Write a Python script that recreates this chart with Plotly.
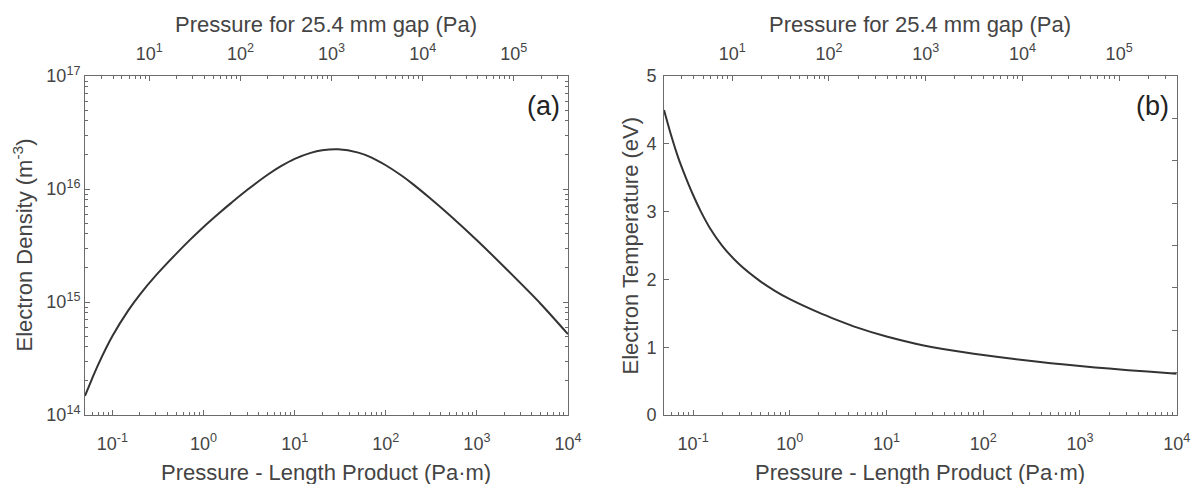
import math
import plotly.graph_objects as go

# ---------------- data ----------------
gap_m = 0.0254  # 25.4 mm gap

pd_a = [0.05, 0.06, 0.07, 0.1, 0.15, 0.2, 0.3, 0.5, 0.7, 1, 1.5, 2, 3, 5, 7, 10,
        15, 20, 30, 50, 70, 100, 150, 200, 300, 500, 1000, 2000, 5000, 10000]
ne_a = [1.48e14, 2.11e14, 2.81e14, 5.0e14, 8.47e14, 1.164e15, 1.718e15, 2.667e15,
        3.51e15, 4.62e15, 6.17e15, 7.50e15, 9.795e15, 1.330e16, 1.585e16, 1.849e16,
        2.089e16, 2.203e16, 2.249e16, 2.099e16, 1.897e16, 1.622e16, 1.309e16, 1.099e16,
        8.41e15, 5.89e15, 3.52e15, 2.04e15, 9.66e14, 5.19e14]

pd_b = [0.05, 0.06, 0.07, 0.08, 0.1, 0.12, 0.15, 0.2, 0.3, 0.5, 0.7, 1, 2, 3, 5,
        10, 20, 50, 100, 200, 500, 1000, 2000, 5000, 10000]
te_b = [4.50, 4.10, 3.80, 3.58, 3.245, 3.004, 2.752, 2.496, 2.223, 1.968, 1.832,
        1.708, 1.509, 1.407, 1.289, 1.157, 1.052, 0.947, 0.884, 0.828, 0.764, 0.722,
        0.684, 0.640, 0.610]

bottom_tickvals = [0.1, 1, 10, 100, 1000, 10000]
bottom_ticktext = ["10<sup>-1</sup>", "10<sup>0</sup>", "10<sup>1</sup>",
                   "10<sup>2</sup>", "10<sup>3</sup>", "10<sup>4</sup>"]
top_tickvals = [10, 100, 1000, 10000, 100000]
top_ticktext = ["10<sup>1</sup>", "10<sup>2</sup>", "10<sup>3</sup>",
                "10<sup>4</sup>", "10<sup>5</sup>"]
ya_tickvals = [1e14, 1e15, 1e16, 1e17]
ya_ticktext = ["10<sup>14</sup>", "10<sup>15</sup>", "10<sup>16</sup>", "10<sup>17</sup>"]
yb_tickvals = [0, 1, 2, 3, 4, 5]

x_min, x_max = 0.05, 1e4
ya_min, ya_max = 1e14, 1e17
yb_min, yb_max = 0, 5

# ---------------- styling ----------------
FONT = "Liberation Sans, Arial, Helvetica, sans-serif"
TXT = "#444444"
AXC = "#6b6b6b"
LINE = "#333333"
W, H = 1192, 484
PAGE_TOP, PAGE_BOT = 76, 415
M_T = PAGE_TOP
M_B = H - PAGE_BOT
plot_h = H - M_T - M_B


def px_x(page_x):
    return page_x / W


def px_y(page_y):
    return (PAGE_BOT - page_y) / plot_h


dom_a = [px_x(85), px_x(568)]
dom_b = [px_x(664), px_x(1176.7)]


def minor_vals(lo, hi):
    vals = []
    for e in range(int(math.floor(math.log10(lo))) - 1, int(math.ceil(math.log10(hi))) + 1):
        for d in range(2, 10):
            v = d * 10 ** e
            if lo <= v <= hi:
                vals.append(v)
    return vals


def base_axis(**kw):
    d = dict(showline=True, linecolor=AXC, linewidth=1, ticks="inside", ticklen=5,
             tickcolor=AXC, tickwidth=1, showgrid=False, zeroline=False,
             automargin=False,
             tickfont=dict(family=FONT, size=18, color=TXT))
    d.update(kw)
    return d


def log_minor(lo, hi):
    return dict(tickvals=minor_vals(lo, hi), ticks="inside", ticklen=3,
                tickcolor=AXC, tickwidth=1, showgrid=False)


fig = go.Figure()

# panel (a)
fig.add_trace(go.Scatter(x=pd_a, y=ne_a, xaxis="x", yaxis="y", mode="lines",
                         line=dict(color=LINE, width=2, shape="spline", smoothing=0.8),
                         showlegend=False, hoverinfo="skip"))
fig.add_trace(go.Scatter(x=[p / gap_m for p in pd_a], y=ne_a, xaxis="x3", yaxis="y3",
                         mode="lines", line=dict(width=0), opacity=0,
                         showlegend=False, hoverinfo="skip"))
# panel (b)
fig.add_trace(go.Scatter(x=pd_b, y=te_b, xaxis="x2", yaxis="y2", mode="lines",
                         line=dict(color=LINE, width=2, shape="spline", smoothing=0.8),
                         showlegend=False, hoverinfo="skip"))
fig.add_trace(go.Scatter(x=[p / gap_m for p in pd_b], y=te_b, xaxis="x4", yaxis="y4",
                         mode="lines", line=dict(width=0), opacity=0,
                         showlegend=False, hoverinfo="skip"))

xr = [math.log10(x_min), math.log10(x_max)]
xr_top = [math.log10(x_min / gap_m), math.log10(x_max / gap_m)]

fig.update_layout(
    width=W, height=H,
    margin=dict(l=0, r=0, t=M_T, b=M_B, autoexpand=False),
    paper_bgcolor="white", plot_bgcolor="white",
    font=dict(family=FONT, color=TXT),
    showlegend=False,
    xaxis=base_axis(type="log", range=xr, domain=dom_a, anchor="y",
                    tickmode="array", tickvals=bottom_tickvals, ticktext=bottom_ticktext,
                    minor=log_minor(x_min, x_max), ticklabelstandoff=12),
    yaxis=base_axis(type="log", range=[14, 17], domain=[0, 1], anchor="x",
                    tickmode="array", tickvals=ya_tickvals, ticktext=ya_ticktext,
                    minor=log_minor(ya_min, ya_max), ticklabelstandoff=0),
    xaxis3=base_axis(type="log", range=xr_top, overlaying="x", side="top", anchor="y3",
                     tickmode="array", tickvals=top_tickvals, ticktext=top_ticktext,
                     minor=log_minor(x_min / gap_m, x_max / gap_m), ticklabelstandoff=8),
    yaxis3=base_axis(type="log", range=[14, 17], overlaying="y", side="right", anchor="x3",
                     tickmode="array", tickvals=ya_tickvals, showticklabels=False,
                     minor=log_minor(ya_min, ya_max)),
    xaxis2=base_axis(type="log", range=xr, domain=dom_b, anchor="y2",
                     tickmode="array", tickvals=bottom_tickvals, ticktext=bottom_ticktext,
                     minor=log_minor(x_min, x_max), ticklabelstandoff=12),
    yaxis2=base_axis(range=[yb_min, yb_max], domain=[0, 1], anchor="x2",
                     tickmode="array", tickvals=yb_tickvals, ticklabelstandoff=3),
    xaxis4=base_axis(type="log", range=xr_top, overlaying="x2", side="top", anchor="y4",
                     tickmode="array", tickvals=top_tickvals, ticktext=top_ticktext,
                     minor=log_minor(x_min / gap_m, x_max / gap_m), ticklabelstandoff=8),
    yaxis4=base_axis(range=[yb_min, yb_max], overlaying="y2", side="right", anchor="x4",
                     tickmode="array", tickvals=[yb_max * k / 8 for k in range(9)],
                     showticklabels=False),
)

ann = []
title_font = dict(family=FONT, size=22, color=TXT)
for dom, ylab, ylab_x, tag in [(dom_a, "Electron Density (m<sup>-3</sup>)", 22, "(a)"),
                               (dom_b, "Electron Temperature (eV)", 630, "(b)")]:
    cx = (dom[0] + dom[1]) / 2
    ann.append(dict(text="Pressure for 25.4 mm gap (Pa)", x=cx, y=px_y(24), xref="paper",
                    yref="paper", xanchor="center", yanchor="middle", showarrow=False,
                    font=title_font))
    ann.append(dict(text="Pressure - Length Product (Pa\u00b7m)", x=cx, y=px_y(472),
                    xref="paper", yref="paper", xanchor="center", yanchor="middle",
                    showarrow=False, font=title_font))
    ann.append(dict(text=ylab, x=px_x(ylab_x), y=0.5, xref="paper", yref="paper",
                    xanchor="center", yanchor="middle", textangle=-90, showarrow=False,
                    font=title_font))
    ann.append(dict(text=tag, x=dom[1] - 6 / W, y=px_y(106), xref="paper", yref="paper",
                    xanchor="right", yanchor="middle", showarrow=False,
                    font=dict(family=FONT, size=27, color="#222222")))
fig.update_layout(annotations=ann)

# remove the default 8px page margin so the figure sits at the window origin
page_css = ("document.documentElement.style.margin='0';"
            "document.body.style.margin='0';"
            "document.body.style.overflow='hidden';"
            "document.documentElement.style.overflow='hidden';")

fig.write_html("out.html", post_script=page_css,
               config={"displayModeBar": False, "staticPlot": True})
